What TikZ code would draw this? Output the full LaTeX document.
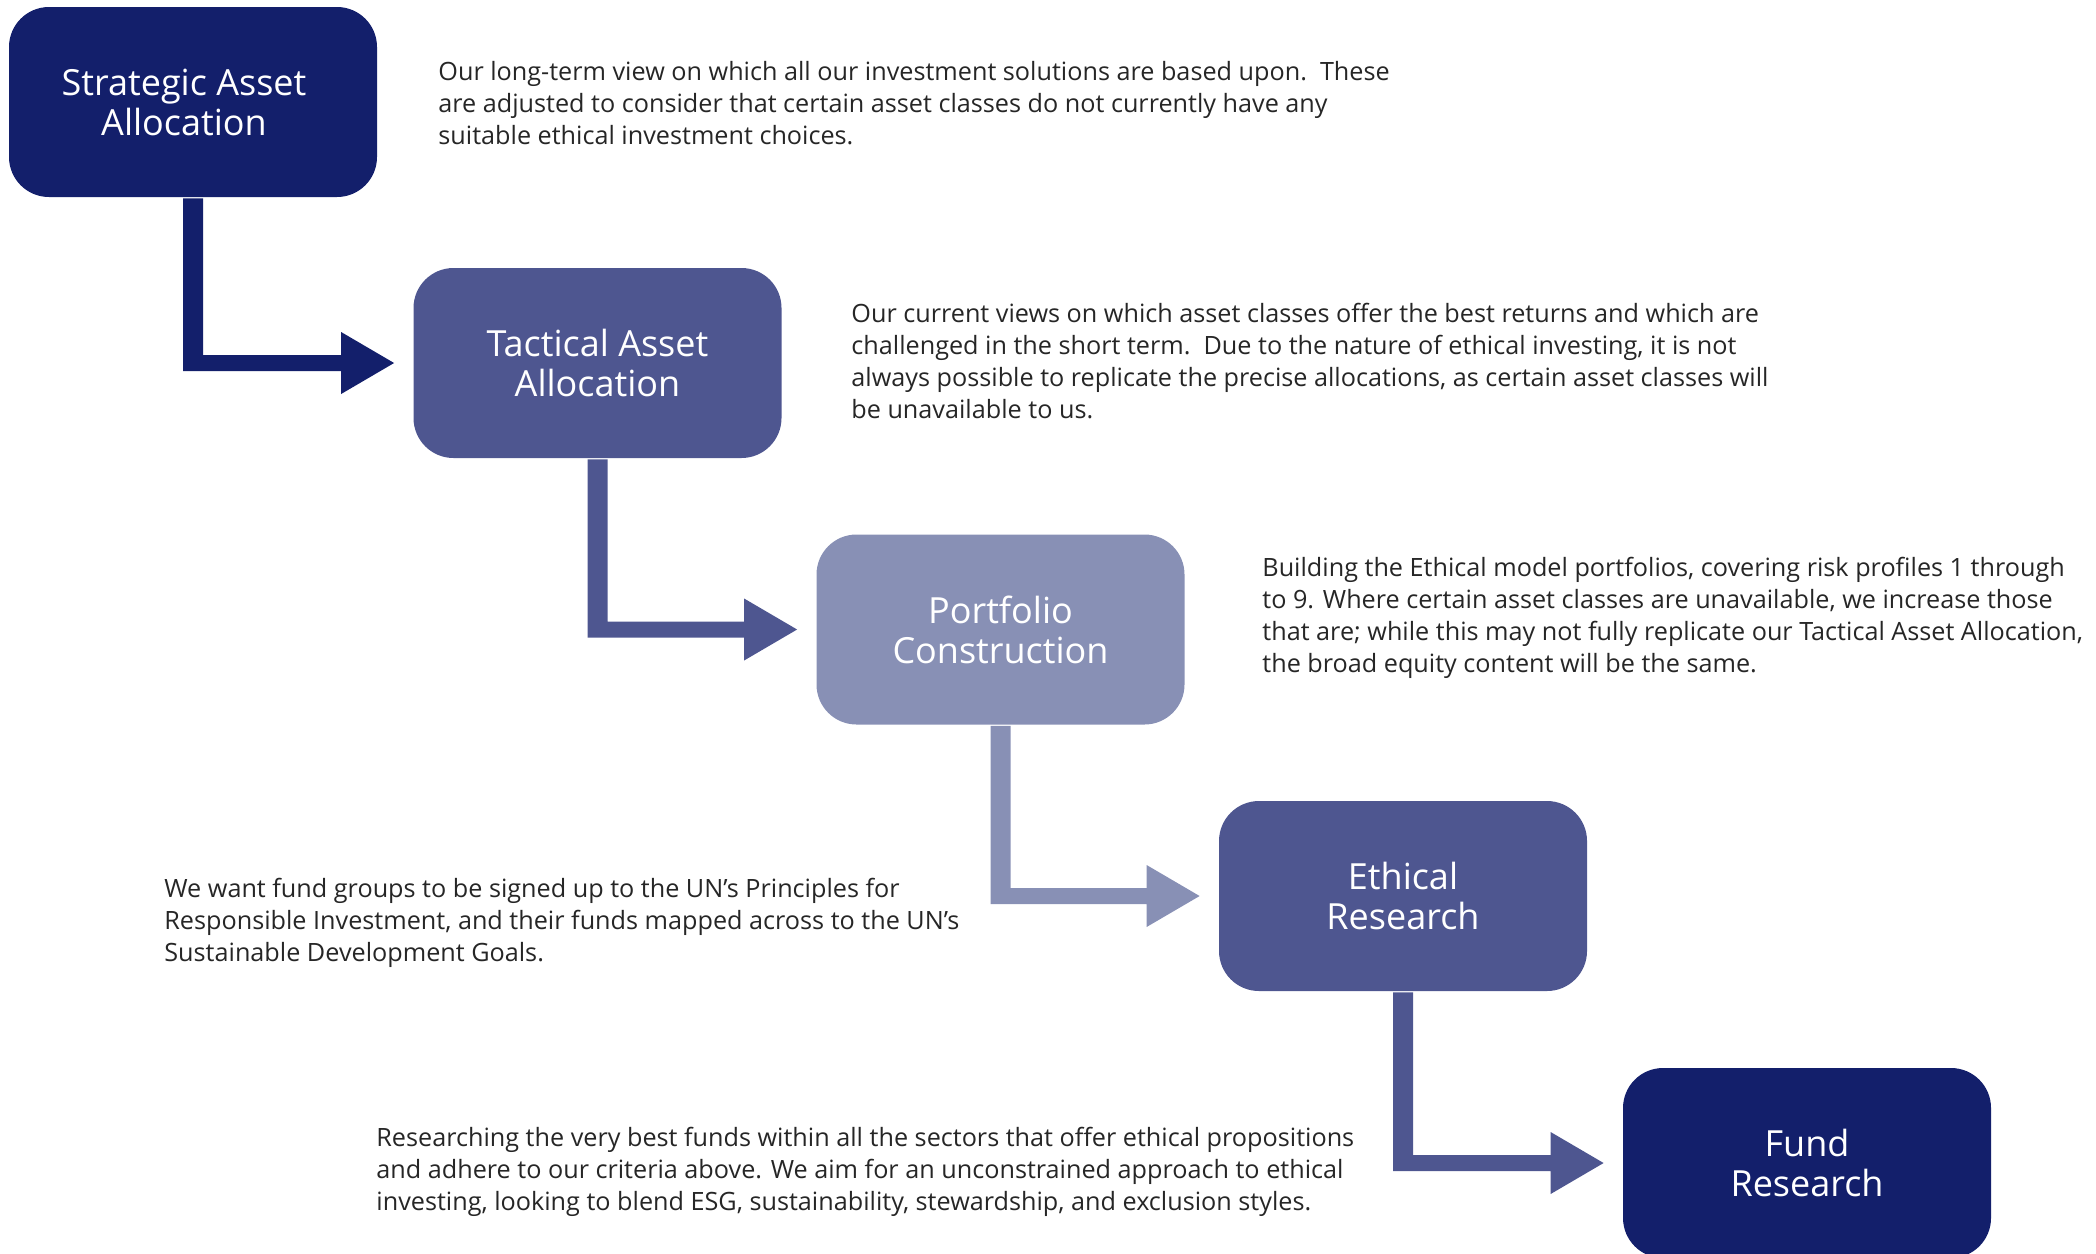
\documentclass[tikz,border=0pt]{standalone}
\usepackage{fontspec}
\setmainfont{Open Sans}
\usetikzlibrary{calc}
\definecolor{navy}{RGB}{19,31,107}
\definecolor{midblue}{RGB}{78,86,144}
\definecolor{lightblue}{RGB}{136,144,181}
\definecolor{bodytext}{RGB}{38,38,38}
\newcommand\flowarrow[3]{%
  \fill[#3] ($(#1.south)+(-10,1)$) -- ($(#1.south)+(10,1)$)
    -- ($(#1.south |- #2.west)+(10,-8)$) -- ($(#2.west)+(-72,-8)$)
    -- ($(#2.west)+(-72,-31)$) -- ($(#2.west)+(-19,0)$)
    -- ($(#2.west)+(-72,31)$) -- ($(#2.west)+(-72,8)$)
    -- ($(#1.south |- #2.west)+(-10,8)$) -- cycle;}
\begin{document}
\begin{tikzpicture}[x=0.5pt,y=-0.5pt,
  stepbox/.style={rounded corners=20pt, minimum width=184pt, minimum height=95pt,
    inner sep=0pt, text=white, align=center, font=\fontsize{18}{20}\selectfont},
  desc/.style={anchor=north west, inner sep=0pt, align=left, text=bodytext,
    font=\fontsize{12.6}{16}\selectfont}]
\useasboundingbox (0,0) rectangle (2096,1253);
\clip (0,0) rectangle (2096,1253);

\node[stepbox, fill=navy] (sa) at (193,102) {Strategic Asset\hspace*{9pt}\\Allocation\hspace*{9pt}};
\node[stepbox, fill=midblue] (ta) at (597.5,363) {Tactical Asset\\Allocation};
\node[stepbox, fill=lightblue] (pc) at (1000.5,629.5) {Portfolio\\Construction};
\node[stepbox, fill=midblue] (er) at (1403,896) {Ethical\\Research};
\node[stepbox, fill=navy] (fr) at (1807,1163) {Fund\\Research};

\flowarrow{sa}{ta}{navy}
\flowarrow{ta}{pc}{midblue}
\flowarrow{pc}{er}{lightblue}
\flowarrow{er}{fr}{midblue}

\node[desc] (d1) at (438,61) {Our long-term view on which all our investment solutions are based upon.\ \ These\\are adjusted to consider that certain asset classes do not currently have any\\suitable ethical investment choices.};
\node[desc] (d2) at (851,303) {Our current views on which asset classes offer the best returns and which are\\challenged in the short term.\ \ Due to the nature of ethical investing, it is not\\always possible to replicate the precise allocations, as certain asset classes will\\be unavailable to us.};
\node[desc] (d3) at (1262,557) {Building the Ethical model portfolios, covering risk profiles 1 through\\to 9. Where certain asset classes are unavailable, we increase those\\that are; while this may not fully replicate our Tactical Asset Allocation,\\the broad equity content will be the same.};
\node[desc] (d4) at (164,878) {We want fund groups to be signed up to the UN’s Principles for\\Responsible Investment, and their funds mapped across to the UN’s\\Sustainable Development Goals.};
\node[desc] (d5) at (376,1127) {Researching the very best funds within all the sectors that offer ethical propositions\\and adhere to our criteria above. We aim for an unconstrained approach to ethical\\investing, looking to blend ESG, sustainability, stewardship, and exclusion styles.};
\end{tikzpicture}
\end{document}
